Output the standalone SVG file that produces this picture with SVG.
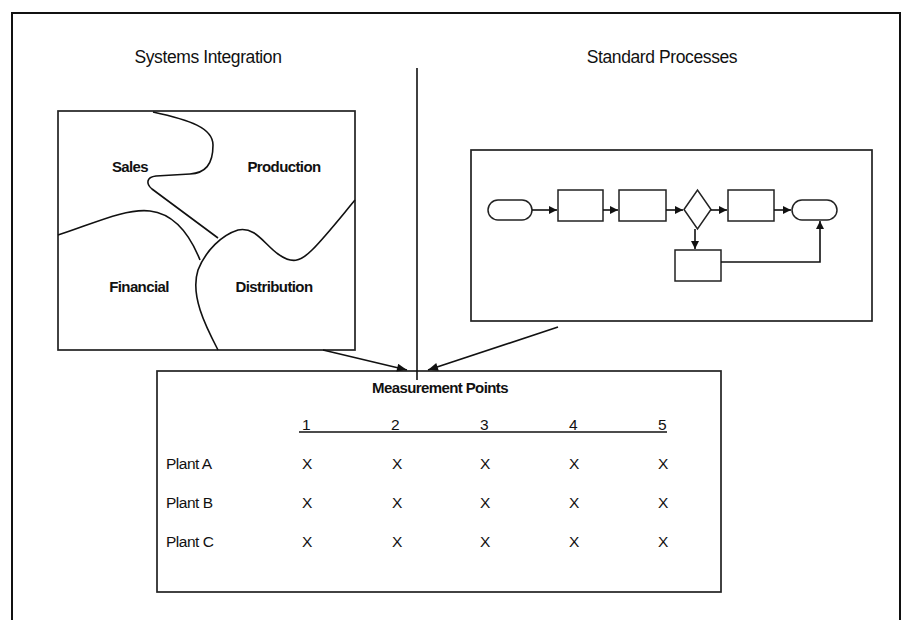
<svg xmlns="http://www.w3.org/2000/svg" width="901" height="620" viewBox="0 0 901 620">
<defs>
<marker id="ah" viewBox="0 0 10 8" refX="10" refY="4" markerWidth="11" markerHeight="8" markerUnits="userSpaceOnUse" orient="auto">
<path d="M0,0 L10,4 L0,8 Z" fill="#111"/>
</marker>
<marker id="sh" viewBox="0 0 8 8" refX="8" refY="4" markerWidth="8" markerHeight="8" markerUnits="userSpaceOnUse" orient="auto">
<path d="M0,0 L8,4 L0,8 Z" fill="#111"/>
</marker>
<style>
.ln{fill:none;stroke:#111;stroke-width:1.6}
.bx{fill:#fff;stroke:#222;stroke-width:1.7}
.fc{fill:#fff;stroke:#222;stroke-width:1.5}
.t{font-family:"Liberation Sans",Arial,sans-serif;fill:#111}
.title{font-size:17.5px;letter-spacing:-0.4px}
.reg{font-family:"Liberation Sans",Arial,sans-serif;font-size:15.5px;fill:#111;letter-spacing:-0.5px}
.bold{font-family:"Liberation Sans",Arial,sans-serif;font-size:15px;font-weight:bold;fill:#111;letter-spacing:-0.6px}
</style>
</defs>
<rect width="901" height="620" fill="#fff"/>
<path d="M12,620 V13 H900 V620" fill="none" stroke="#111" stroke-width="2"/>

<text class="t title" x="208" y="63" text-anchor="middle">Systems Integration</text>
<text class="t title" x="662" y="63" text-anchor="middle">Standard Processes</text>

<g id="systems-integration">
<rect class="bx" x="58" y="111" width="297" height="239"/>
<path class="ln" d="M153,112 C190,120 213,128 213,145 C213,165 205,173 190,174 L156,176 C146,177 146,184 152,189 L218,238"/>
<path class="ln" d="M58,235 C90,225 125,208 150,211 C175,214 190,235 200,260"/>
<path class="ln" d="M218,350 C205,325 190,295 198,270 C206,250 222,235 238,230 C255,226 265,245 278,254 C292,264 300,262 312,250 C325,237 340,218 355,200"/>
<text class="bold" x="130" y="172" text-anchor="middle">Sales</text>
<text class="bold" x="284" y="172" text-anchor="middle">Production</text>
<text class="bold" x="139" y="292" text-anchor="middle">Financial</text>
<text class="bold" x="274" y="292" text-anchor="middle">Distribution</text>
</g>

<g id="standard-processes">
<rect class="bx" x="471" y="150" width="401" height="171"/>
<rect class="fc" x="488" y="200" width="44" height="20" rx="10"/>
<rect class="fc" x="558" y="190" width="45" height="31"/>
<rect class="fc" x="619" y="190" width="47" height="31"/>
<polygon class="fc" points="684,209.5 697.5,190 711,209.5 697.5,229"/>
<rect class="fc" x="728" y="190" width="46" height="31"/>
<rect class="fc" x="792" y="200" width="45" height="20" rx="10"/>
<rect class="fc" x="675" y="250" width="46" height="31"/>
<g class="ln" stroke-width="1.3">
<line x1="532" y1="210" x2="557" y2="210" marker-end="url(#sh)"/>
<line x1="603" y1="210" x2="618" y2="210" marker-end="url(#sh)"/>
<line x1="666" y1="210" x2="683" y2="210" marker-end="url(#sh)"/>
<line x1="711" y1="210" x2="727" y2="210" marker-end="url(#sh)"/>
<line x1="774" y1="210" x2="791" y2="210" marker-end="url(#sh)"/>
<line x1="695" y1="229" x2="695" y2="249" marker-end="url(#sh)"/>
<polyline points="721,262 820,262 820,221" fill="none" marker-end="url(#sh)"/>
</g>
</g>

<g id="measurement-points">
<rect class="bx" x="157" y="371" width="564" height="221"/>
<text class="bold" x="440" y="393" text-anchor="middle" font-size="15.5px">Measurement Points</text>
<line x1="299" y1="432" x2="667" y2="432" stroke="#111" stroke-width="1.5"/>
<g class="reg" text-anchor="middle">
<text x="306" y="430">1</text>
<text x="395" y="430">2</text>
<text x="484" y="430">3</text>
<text x="573" y="430">4</text>
<text x="662" y="430">5</text>
</g>
<g class="reg">
<text x="166" y="469">Plant A</text>
<text x="166" y="508">Plant B</text>
<text x="166" y="547">Plant C</text>
</g>
<g class="reg" text-anchor="middle">
<text x="307" y="469">X</text><text x="397" y="469">X</text><text x="485" y="469">X</text><text x="574" y="469">X</text><text x="663" y="469">X</text>
<text x="307" y="508">X</text><text x="397" y="508">X</text><text x="485" y="508">X</text><text x="574" y="508">X</text><text x="663" y="508">X</text>
<text x="307" y="547">X</text><text x="397" y="547">X</text><text x="485" y="547">X</text><text x="574" y="547">X</text><text x="663" y="547">X</text>
</g>
</g>

<g id="connectors" class="ln">
<line x1="417" y1="68" x2="417" y2="380"/>
<line x1="323" y1="350" x2="407" y2="370" marker-end="url(#ah)"/>
<line x1="558" y1="327" x2="428" y2="370" marker-end="url(#ah)"/>
</g>
</svg>
